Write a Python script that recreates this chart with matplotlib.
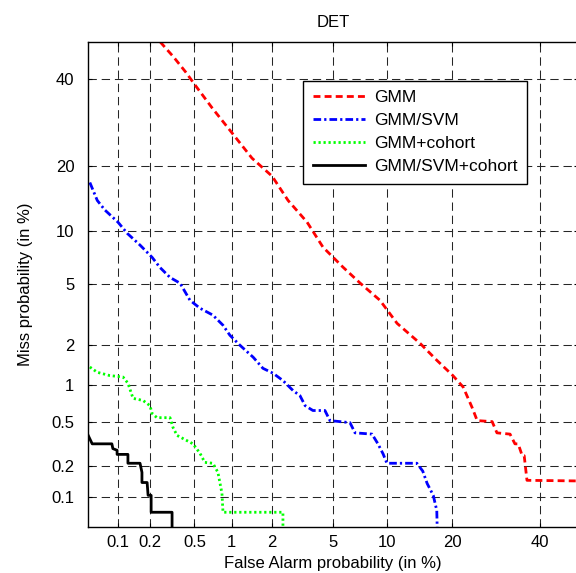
import math
import numpy as np
import matplotlib
matplotlib.use("Agg")
import matplotlib.pyplot as plt

plt.rcParams['font.family'] = ['Liberation Sans', 'DejaVu Sans']
plt.rcParams['lines.scale_dashes'] = False

# ---------------- data (percent) ----------------
fa_gmm = [0.25, 0.33, 0.42, 0.505, 0.70, 1.01, 1.43, 2.0, 2.58, 3.45, 4.35, 5.74, 7.2, 9.2,
          11.25, 14.5, 17.2, 20.1, 22.1, 23.9, 25.0, 28.3, 29.4, 32.5, 33.7, 34.5, 35.5, 36.0,
          36.7, 50]
miss_gmm = [50, 45.9, 41.9, 38.5, 32.7, 26.8, 21.5, 18.1, 14.1, 11.06, 8.18, 6.32, 5.08, 3.98,
            2.81, 2.04, 1.54, 1.18, 0.96, 0.66, 0.51, 0.5, 0.40, 0.39, 0.32, 0.32, 0.25, 0.25,
            0.147, 0.145]

fa_svm = [0.052, 0.062, 0.074, 0.10, 0.123, 0.163, 0.211, 0.249, 0.307, 0.376, 0.458, 0.556,
          0.71, 0.856, 0.97, 1.16, 1.46, 1.72, 2.03, 2.38, 2.79, 3.10, 3.35, 3.76, 4.47, 4.80,
          6.3, 6.73, 8.35, 8.98, 9.55, 10.0, 14.0, 14.9, 15.6, 16.6, 17.2, 17.3]
miss_svm = [17.0, 14.1, 12.7, 11.06, 9.7, 8.4, 7.2, 6.3, 5.5, 5.08, 3.98, 3.54, 3.19, 2.73,
            2.33, 1.98, 1.62, 1.34, 1.23, 1.08, 0.90, 0.82, 0.68, 0.62, 0.62, 0.51, 0.49, 0.40,
            0.39, 0.32, 0.26, 0.213, 0.213, 0.18, 0.137, 0.105, 0.074, 0.04]

fa_coh = [0.052, 0.062, 0.083, 0.112, 0.125, 0.14, 0.174, 0.202, 0.211, 0.234, 0.307, 0.326,
          0.354, 0.486, 0.556, 0.61, 0.71, 0.78, 0.84, 0.856, 2.38, 2.38]
miss_coh = [1.37, 1.25, 1.18, 1.15, 1.03, 0.78, 0.75, 0.68, 0.587, 0.54, 0.54, 0.446, 0.38,
            0.32, 0.263, 0.217, 0.213, 0.175, 0.11, 0.071, 0.071, 0.04]

fa_svmcoh = [0.05, 0.055, 0.087, 0.089, 0.098, 0.098, 0.125, 0.125, 0.163, 0.17, 0.17, 0.19,
             0.194, 0.207, 0.207, 0.32, 0.32]
miss_svmcoh = [0.38, 0.32, 0.32, 0.29, 0.28, 0.257, 0.257, 0.213, 0.213, 0.175, 0.14, 0.14,
               0.105, 0.105, 0.071, 0.071, 0.04]

tick_vals = [0.1, 0.2, 0.5, 1, 2, 5, 10, 20, 40]
tick_labels = ['0.1', '0.2', '0.5', '1', '2', '5', '10', '20', '40']
labels = ['GMM', 'GMM/SVM', 'GMM+cohort', 'GMM/SVM+cohort']


# ---------------- normal deviate scale ----------------
def _ppf(p):
    p = np.clip(np.asarray(p, dtype=float), 1e-12, 1 - 1e-12)
    a = [-3.969683028665376e+01, 2.209460984245205e+02, -2.759285104469687e+02,
         1.383577518672690e+02, -3.066479806614716e+01, 2.506628277459239e+00]
    b = [-5.447609879822406e+01, 1.615858368580409e+02, -1.556989798598866e+02,
         6.680131188771972e+01, -1.328068155288572e+01]
    c = [-7.784894002430293e-03, -3.223964580411365e-01, -2.400758277161838e+00,
         -2.549732539343734e+00, 4.374664141464968e+00, 2.938163982698783e+00]
    d = [7.784695709041462e-03, 3.224671290700398e-01, 2.445134137142996e+00,
         3.754408661907416e+00]
    plow = 0.02425
    out = np.empty_like(p)
    lo = p < plow
    hi = p > 1 - plow
    mid = ~(lo | hi)
    q = np.sqrt(-2 * np.log(p[lo]))
    out[lo] = (((((c[0]*q+c[1])*q+c[2])*q+c[3])*q+c[4])*q+c[5]) / ((((d[0]*q+d[1])*q+d[2])*q+d[3])*q+1)
    q = p[mid] - 0.5
    r = q*q
    out[mid] = (((((a[0]*r+a[1])*r+a[2])*r+a[3])*r+a[4])*r+a[5])*q / (((((b[0]*r+b[1])*r+b[2])*r+b[3])*r+b[4])*r+1)
    q = np.sqrt(-2 * np.log(1 - p[hi]))
    out[hi] = -(((((c[0]*q+c[1])*q+c[2])*q+c[3])*q+c[4])*q+c[5]) / ((((d[0]*q+d[1])*q+d[2])*q+d[3])*q+1)
    return out


_erf = np.frompyfunc(math.erf, 1, 1)


def forward(x):
    return _ppf(np.asarray(x, dtype=float) / 100.0)


def inverse(z):
    z = np.asarray(z, dtype=float)
    return 50.0 * (1.0 + _erf(z / math.sqrt(2)).astype(float))


# ---------------- figure ----------------
W, H = 576, 573
FS = 12
fig = plt.figure(figsize=(W / 100, H / 100), dpi=100)
ax = fig.add_axes([88.2 / W, 46 / H, (577.5 - 88.2) / W, 485.2 / H])
ax.set_xscale('function', functions=(forward, inverse))
ax.set_yscale('function', functions=(forward, inverse))
ax.set_xlim(0.05, 50)
ax.set_ylim(0.05, 50)

ax.plot(fa_gmm, miss_gmm, color='#ff0000', lw=2.0, linestyle=(0, (5.0, 3.0)), label=labels[0])
ax.plot(fa_svm, miss_svm, color='#0000ff', lw=2.0, linestyle=(0, (5.5, 2.2, 1.6, 2.2)), label=labels[1])
ax.plot(fa_coh, miss_coh, color='#00ff00', lw=2.0, linestyle=(0, (1.6, 2.0)), label=labels[2])
ax.plot(fa_svmcoh, miss_svmcoh, color='black', lw=2.0, linestyle='-', label=labels[3])

ax.set_xticks(tick_vals)
ax.set_xticklabels(tick_labels)
ax.set_yticks(tick_vals)
ax.set_yticklabels(tick_labels)
ax.minorticks_off()
ax.tick_params(direction='in', length=3, top=True, right=True, labelsize=FS, width=0.8)
ax.tick_params(axis='x', pad=6)
ax.tick_params(axis='y', pad=10)
ax.grid(True, color='0.15', linestyle=(0, (6, 3.5)), linewidth=0.75)
for s in ax.spines.values():
    s.set_linewidth(1.0)

ax.set_title('DET', fontsize=FS, pad=11)
ax.set_xlabel('False Alarm probability (in %)', fontsize=FS, labelpad=4)
ax.set_ylabel('Miss probability (in %)', fontsize=FS, labelpad=13)

leg = ax.legend(loc='upper left', bbox_to_anchor=(0.44, 0.92), fontsize=12.5, frameon=True,
                fancybox=False, edgecolor='black', framealpha=1, handlelength=3.0,
                handletextpad=0.5, borderpad=0.55, labelspacing=0.45, borderaxespad=0)
leg.get_frame().set_linewidth(1.0)

fig.savefig('out.png', dpi=100)
